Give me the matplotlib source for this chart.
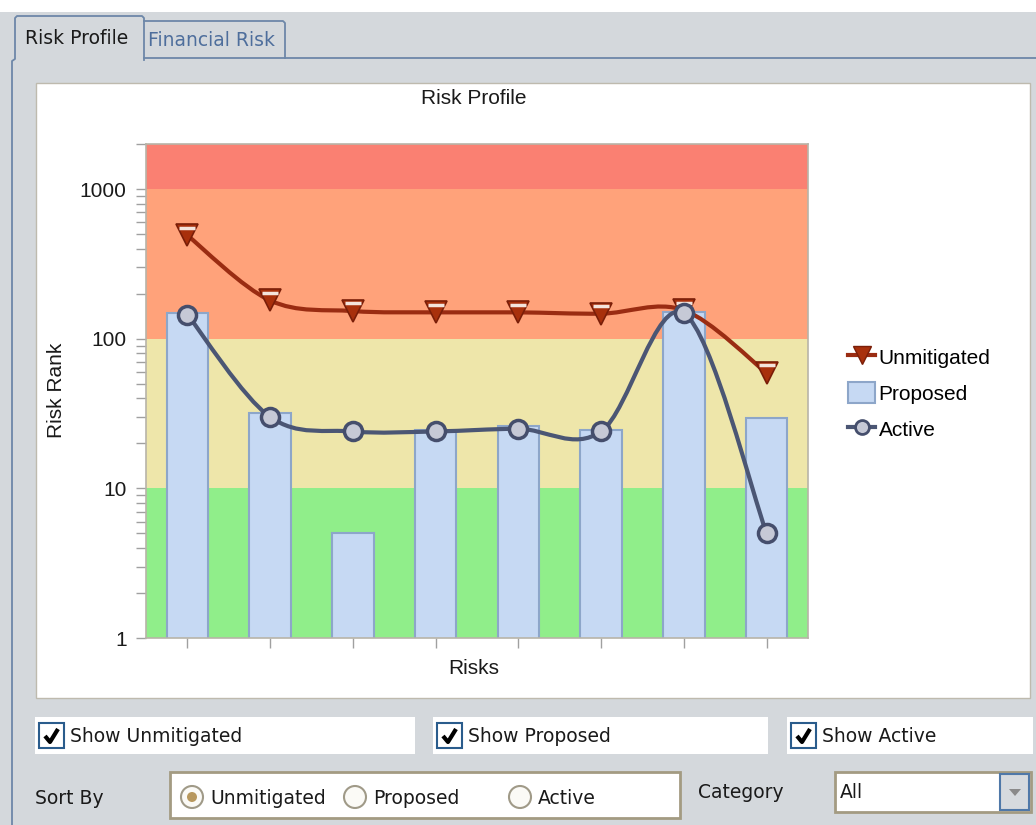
import numpy as np
import matplotlib
matplotlib.use("Agg")
import matplotlib.pyplot as plt
from matplotlib.patches import Rectangle, Circle, Polygon, PathPatch
from matplotlib.path import Path
from matplotlib.lines import Line2D
from matplotlib.transforms import ScaledTranslation

# ---------------- data ----------------
risks = ["R1", "R2", "R3", "R4", "R5", "R6", "R7", "R8"]
unmitigated = [490, 180, 153, 150, 150, 147, 155, 59]
proposed = [148, 32, 5, 24.5, 26, 24.5, 150, 29.3]
active = [145, 30, 24, 24, 25, 24, 148, 5]
y_ticks = [1, 10, 100, 1000]
y_tick_labels = ["1", "10", "100", "1000"]
bands = [(1, 10, "#90EE8A"), (10, 100, "#EEE6AA"), (100, 1000, "#FFA27A"), (1000, 2000, "#FA8072")]
legend_labels = ["Unmitigated", "Proposed", "Active"]

W, H = 1036, 825
fig = plt.figure(figsize=(W / 100, H / 100), dpi=100)
fig.patch.set_facecolor("#D4D8DC")

UI_FONT = "DejaVu Sans"
CH_FONT = "Liberation Sans"

# ---------------- UI overlay (pixel coordinates) ----------------
ui = fig.add_axes([0, 0, 1, 1], zorder=0)
ui.set_xlim(0, W)
ui.set_ylim(H, 0)
ui.axis("off")

# white strip at top
ui.add_patch(Rectangle((0, 0), W, 12, fc="white", ec="none"))
tabc = "#6D87A8"
# Financial tab
ui.plot([144, 283, 285, 285], [21, 21, 23, 58], color=tabc, lw=1.3)
ui.plot([144, W], [58, 58], color=tabc, lw=1.3)
# selected tab
ui.add_patch(Polygon([(15, 59), (15, 18), (17, 16), (142, 16), (144, 18), (144, 60)],
                     closed=False, fc="#D4D8DC", ec="none"))
ui.plot([12, 12, 15, 15, 17, 142, 144, 144], [H, 61, 59, 18, 16, 16, 18, 60], color=tabc, lw=1.3)
ui.text(25, 39, "Risk Profile", fontsize=13.5, family=UI_FONT, color="#1A1A1A", va="center")
ui.text(148, 41, "Financial Risk", fontsize=13.5, family=UI_FONT, color="#4E6E9C", va="center")

# chart panel
ui.add_patch(Rectangle((36, 83), 994, 615, fc="white", ec="#BEBAAE", lw=1))

# checkbox rows
def checkbox(x0, x1, label):
    ui.add_patch(Rectangle((x0, 717), x1 - x0, 37, fc="white", ec="none"))
    bx = x0 + 4
    ui.add_patch(Rectangle((bx, 723), 25, 25, fc="white", ec="#2A5C8C", lw=1.5))
    ui.plot([bx + 6, bx + 11, bx + 19], [736, 742, 729], color="black", lw=3, solid_capstyle="butt")
    ui.text(bx + 31, 736, label, fontsize=13.5, family=UI_FONT, color="#1A1A1A", va="center")

checkbox(35, 415, "Show Unmitigated")
checkbox(433, 768, "Show Proposed")
checkbox(787, 1033, "Show Active")

# sort by group
ui.text(35, 798, "Sort By", fontsize=13.5, family=UI_FONT, color="#1A1A1A", va="center")
ui.add_patch(Rectangle((170, 772), 510, 46, fc="white", ec="#A39B82", lw=2))
for cx, lab, sel in [(192, "Unmitigated", True), (355, "Proposed", False), (520, "Active", False)]:
    ui.add_patch(Circle((cx, 797), 11, fc="#FBFAF6", ec="#A09A88", lw=1.5))
    if sel:
        ui.add_patch(Circle((cx, 797), 5, fc="#B8985E", ec="none"))
    ui.text(cx + 18, 798, lab, fontsize=13.5, family=UI_FONT, color="#1A1A1A", va="center")

ui.text(698, 793, "Category", fontsize=13.5, family=UI_FONT, color="#1A1A1A", va="center")
ui.add_patch(Rectangle((835, 772), 196, 40, fc="white", ec="#A39B82", lw=2))
ui.text(840, 792, "All", fontsize=13.5, family=UI_FONT, color="#1A1A1A", va="center")
ui.add_patch(Rectangle((1000, 774), 29, 36, fc="#D6DADE", ec="#4F78A8", lw=1.5))
ui.add_patch(Polygon([(1009, 789), (1021, 789), (1015, 796)], closed=True, fc="#8A8A8A", ec="none"))

# ---------------- chart ----------------
ax = fig.add_axes([146 / W, 1 - 638 / H, 662 / W, 494 / H], zorder=2)
ax.set_yscale("log")
ax.set_ylim(1, 2000)
x = np.arange(len(risks))
ax.set_xlim(-0.5, len(risks) - 0.5)

for lo, hi, c in bands:
    ax.axhspan(lo, hi, color=c, lw=0, zorder=0)

ax.bar(x, proposed, width=0.5, color="#C6D9F3", edgecolor="#8DA6C9", linewidth=1.5, zorder=2)
ax.set_ylim(1, 2000)


def smooth_path(xs, ys):
    lx = np.asarray(xs, float)
    ly = np.log10(np.asarray(ys, float))
    P = np.column_stack([lx, ly])
    n = len(P)
    verts = [P[0]]
    codes = [Path.MOVETO]
    for i in range(n - 1):
        p0 = P[i - 1] if i > 0 else P[i]
        p1 = P[i]
        p2 = P[i + 1]
        p3 = P[i + 2] if i + 2 < n else P[i + 1]
        c1 = p1 + (p2 - p0) / 6.0
        c2 = p2 - (p3 - p1) / 6.0
        verts += [c1, c2, p2]
        codes += [Path.CURVE4] * 3
    V = np.array(verts)
    V[:, 1] = 10 ** V[:, 1]
    return Path(V, codes)


red_line = "#9A2C12"
red_fill = "#A8300C"
blue_line = "#4B5674"
ax.add_patch(PathPatch(smooth_path(x, unmitigated), fill=False, ec=red_line, lw=3, zorder=3))
ax.add_patch(PathPatch(smooth_path(x, active), fill=False, ec=blue_line, lw=3, zorder=4))

ax.plot(x, unmitigated, ls="none", marker="v", ms=16, mfc=red_fill, mec="#7A1E08", mew=1.2, zorder=5)
hl = ax.transData + ScaledTranslation(0, 5.5 / 72, fig.dpi_scale_trans)
ax.plot(x, unmitigated, ls="none", marker="_", ms=11, mew=2.5, color="#F4E4DC", transform=hl, zorder=5)
ax.plot(x, active, ls="none", marker="o", ms=13, mfc="#C6C9D6", mec="#454E6C", mew=2.5, zorder=6)

ax.set_yticks(y_ticks)
ax.set_yticklabels(y_tick_labels)
ax.set_xticks(x)
ax.set_xticklabels([])
ax.tick_params(axis="y", which="both", direction="out", length=7, width=1, color="#A0A0A0",
               labelsize=15, pad=7, labelcolor="#1A1A1A")
ax.tick_params(axis="x", which="both", direction="out", length=7, width=1, color="#A0A0A0")
for lab in ax.get_yticklabels():
    lab.set_family(CH_FONT)
for s in ax.spines.values():
    s.set_color("#B8B4A8")
    s.set_linewidth(1.2)

fig.text(474 / W, 1 - 99 / H, "Risk Profile", fontsize=15, family=CH_FONT, color="#1A1A1A", ha="center", va="center")
fig.text(474 / W, 1 - 668 / H, "Risks", fontsize=15, family=CH_FONT, color="#1A1A1A", ha="center", va="center")
fig.text(57 / W, 1 - 390 / H, "Risk Rank", fontsize=15, family=CH_FONT, color="#1A1A1A", ha="center",
         va="center", rotation=90)

handles = [
    Line2D([0], [0], color=red_line, lw=3, marker="v", ms=13, mfc=red_fill, mec="#7A1E08"),
    Rectangle((0, 0), 1, 1, fc="#C6D9F3", ec="#8DA6C9", lw=1.5),
    Line2D([0], [0], color=blue_line, lw=3, marker="o", ms=10, mfc="#C6C9D6", mec="#454E6C", mew=2),
]
leg = fig.legend(handles, legend_labels, loc="upper left", bbox_to_anchor=(840 / W, 1 - 338 / H),
                 frameon=False, prop={"family": CH_FONT, "size": 15}, handlelength=1.3,
                 handleheight=1.15, handletextpad=0.15, labelspacing=0.7, borderaxespad=0)

fig.savefig("out.png", dpi=100, facecolor=fig.get_facecolor())
